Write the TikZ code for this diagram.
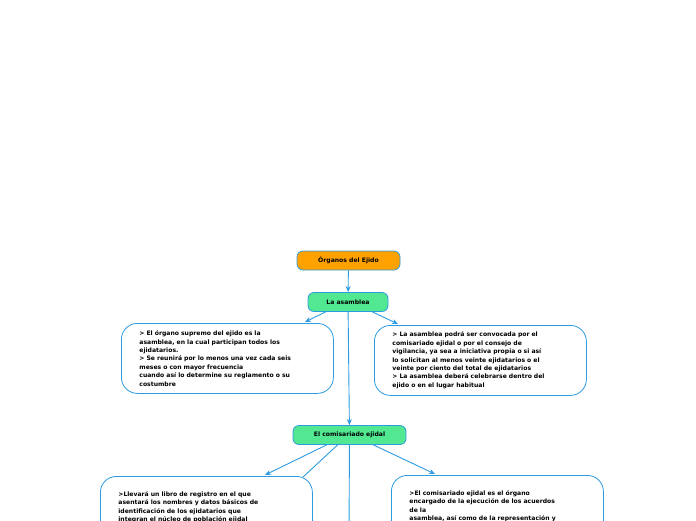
\documentclass[tikz,border=0pt]{standalone}
\usepackage{fontspec}
\setmainfont{DejaVu Sans}
\usetikzlibrary{arrows.meta,positioning}

\definecolor{linkblue}{HTML}{2D9BE0}
\definecolor{orangehead}{HTML}{FFA200}
\definecolor{greenhead}{HTML}{52E892}
\tikzset{
  head/.style={draw=linkblue,rounded corners=6pt,line width=0.8pt,font=\bfseries\fontsize{6.1}{7}\selectfont,minimum height=19pt,inner sep=2pt},
  note/.style={draw=linkblue,fill=white,rounded corners=16pt,line width=0.8pt,font=\bfseries\fontsize{6.1}{8.4}\selectfont,align=left,inner xsep=18pt,inner ysep=6pt,anchor=north west},
  link/.style={draw=linkblue,line width=0.9pt,-{Stealth[length=6pt,width=5pt]}},
}

\begin{document}
\begin{tikzpicture}[x=1pt,y=-1pt]
\useasboundingbox (0,0) rectangle (696,520);
\clip (0,0) rectangle (696,520);

\node[head,fill=orangehead,minimum width=103pt] (organos) at (348.5,260.5) {Órganos del Ejido};
\node[head,fill=greenhead,minimum width=80pt] (asamblea) at (348,302) {La asamblea};
\node[head,fill=greenhead,minimum width=113pt] (comisariado) at (349.5,435) {El comisariado ejidal};

\node[note,text width=176pt,minimum width=212pt,minimum height=70pt] (asamL) at (121,323) {> El órgano supremo del ejido es la\\asamblea, en la cual participan todos los\\ejidatarios.\\> Se reunirá por lo menos una vez cada seis\\meses o con mayor frecuencia\\cuando así lo determine su reglamento o su\\costumbre};
\node[note,text width=176pt,minimum width=212pt,minimum height=70pt] (asamR) at (374,325) {> La asamblea podrá ser convocada por el\\comisariado ejidal o por el consejo de\\vigilancia, ya sea a iniciativa propia o si así\\lo solicitan al menos veinte ejidatarios o el\\veinte por ciento del total de ejidatarios\\> La asamblea deberá celebrarse dentro del\\ejido o en el lugar habitual};
\node[note,text width=176pt,minimum width=212pt,minimum height=70pt] (comL) at (100,476) {>Llevará un libro de registro en el que\\asentará los nombres y datos básicos de\\identificación de los ejidatarios que\\integran el núcleo de población ejidal\\correspondiente};
\node[note,text width=176pt,minimum width=212pt,minimum height=70pt] (comR) at (391,475) {>El comisariado ejidal es el órgano\\encargado de la ejecución de los acuerdos\\de la\\asamblea, así como de la representación y\\gestión administrativa del ejido};

\coordinate (down) at (349,540);

\draw[link] (organos) -- (asamblea);
\draw[link] (asamblea.south west) ++(18,0) -- (305,322);
\draw[link] (asamblea.south east) ++(-16,0) -- (398,324);
\draw[link] (asamblea) -- (comisariado);
\draw[link] (comisariado.south west) ++(34,0) -- (265,475);
\draw[link,-] (comisariado.south west) ++(45,0) -- (303,477);
\draw[link,-] (comisariado) -- (down);
\draw[link] (comisariado.south east) ++(-33,0) -- (435,474);
\end{tikzpicture}
\end{document}
